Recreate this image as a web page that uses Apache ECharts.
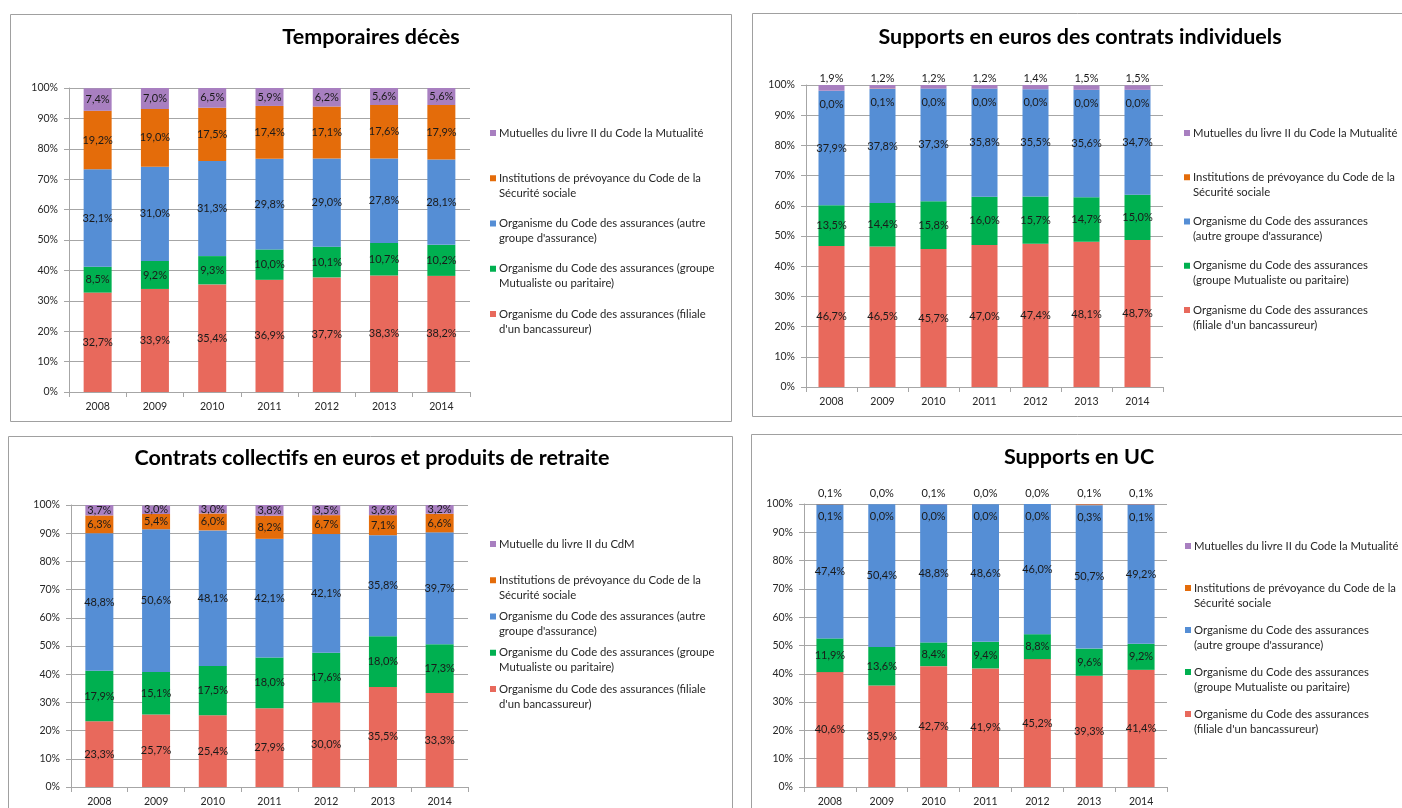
<!DOCTYPE html>
<html>
<head>
<meta charset="utf-8">
<script src="https://cdn.jsdelivr.net/npm/echarts@6/dist/echarts.min.js"></script>
<style>
  html, body { margin: 0; padding: 0; background: #ffffff; overflow: hidden; }
  #chart { width: 1402px; height: 808px; }
</style>
</head>
<body>
<div id="chart"></div>
<script>
// Years on the category axis
const years = ['2008', '2009', '2010', '2011', '2012', '2013', '2014'];

// Series names
const nameMutuelles = 'Mutuelles du livre II du Code la Mutualité';
const nameMutuelleCdM = 'Mutuelle du livre II du CdM';
const nameInstitutions = 'Institutions de prévoyance du Code de la Sécurité sociale';
const nameAutre = "Organisme du Code des assurances (autre groupe d'assurance)";
const nameGroupe = 'Organisme du Code des assurances (groupe Mutualiste ou paritaire)';
const nameFiliale = "Organisme du Code des assurances (filiale d'un bancassureur)";

// Chart titles
const titles = [
  'Temporaires décès',
  'Supports en euros des contrats individuels',
  'Contrats collectifs en euros et produits de retraite',
  'Supports en UC'
];

// Temporaires décès (%)
const tdFiliale      = [32.7, 33.9, 35.4, 36.9, 37.7, 38.3, 38.2];
const tdGroupe       = [8.5, 9.2, 9.3, 10.0, 10.1, 10.7, 10.2];
const tdAutre        = [32.1, 31.0, 31.3, 29.8, 29.0, 27.8, 28.1];
const tdInstitutions = [19.2, 19.0, 17.5, 17.4, 17.1, 17.6, 17.9];
const tdMutuelles    = [7.4, 7.0, 6.5, 5.9, 6.2, 5.6, 5.6];

// Supports en euros des contrats individuels (%)
const seFiliale      = [46.7, 46.5, 45.7, 47.0, 47.4, 48.1, 48.7];
const seGroupe       = [13.5, 14.4, 15.8, 16.0, 15.7, 14.7, 15.0];
const seAutre        = [37.9, 37.8, 37.3, 35.8, 35.5, 35.6, 34.7];
const seInstitutions = [0.0, 0.1, 0.0, 0.0, 0.0, 0.0, 0.0];
const seMutuelles    = [1.9, 1.2, 1.2, 1.2, 1.4, 1.5, 1.5];

// Contrats collectifs en euros et produits de retraite (%)
const ccFiliale      = [23.3, 25.7, 25.4, 27.9, 30.0, 35.5, 33.3];
const ccGroupe       = [17.9, 15.1, 17.5, 18.0, 17.6, 18.0, 17.3];
const ccAutre        = [48.8, 50.6, 48.1, 42.1, 42.1, 35.8, 39.7];
const ccInstitutions = [6.3, 5.4, 6.0, 8.2, 6.7, 7.1, 6.6];
const ccMutuelles    = [3.7, 3.0, 3.0, 3.8, 3.5, 3.6, 3.2];

// Supports en UC (%)
const ucFiliale      = [40.6, 35.9, 42.7, 41.9, 45.2, 39.3, 41.4];
const ucGroupe       = [11.9, 13.6, 8.4, 9.4, 8.8, 9.6, 9.2];
const ucAutre        = [47.4, 50.4, 48.8, 48.6, 46.0, 50.7, 49.2];
const ucInstitutions = [0.1, 0.0, 0.0, 0.0, 0.0, 0.3, 0.1];
const ucMutuelles    = [0.1, 0.0, 0.1, 0.0, 0.0, 0.1, 0.1];

// ---- styling ----
const FONT = 'Lato, "Liberation Sans", sans-serif';
const colors = {
  filiale: '#e8695c',
  groupe: '#00b050',
  autre: '#558ed5',
  institutions: '#e46c0a',
  mutuelles: '#a87fc0'
};
const gridLine = '#a6a6a6';
const textDark = '#262626';

// panel frames [x, y, w, h]
const frames = [
  [10.5, 14.5, 721, 407],
  [752.5, 13.5, 700, 403],
  [8.5, 436.5, 724, 420],
  [751.5, 434.5, 700, 420]
];

// plot areas [left, top, width, height]
const grids = [
  [69, 88, 401, 304],
  [806, 85, 357, 302],
  [71, 505, 397, 282],
  [804, 504, 363, 283]
];
const barWidths = [28, 26, 28, 27];
const titleCenters = [[371, 26], [1080, 26], [372, 447], [1079, 446]];

// legend placement: [left, top, itemGap]
const legends = [
  [490, 125.5, 15.25],
  [1184, 125.5, 14.25],
  [490, 536.5, 6.25],
  [1185, 538.5, 12]
];

// small top segments: distances of the top label above the bar and of the
// second-to-top label below its (near zero) segment
const smallLabelDist = [null, [1, 8], null, [5, 7]];

// legend wrapping, two layouts
const wrapWide = {};
wrapWide[nameMutuelles] = nameMutuelles + '\n ';
wrapWide[nameMutuelleCdM] = nameMutuelleCdM + '\n ';
wrapWide[nameInstitutions] = 'Institutions de prévoyance du Code de la\nSécurité sociale';
wrapWide[nameAutre] = "Organisme du Code des assurances (autre\ngroupe d'assurance)";
wrapWide[nameGroupe] = 'Organisme du Code des assurances (groupe\nMutualiste ou paritaire)';
wrapWide[nameFiliale] = "Organisme du Code des assurances (filiale\nd'un bancassureur)";

const wrapNarrow = Object.assign({}, wrapWide);
wrapNarrow[nameAutre] = "Organisme du Code des assurances\n(autre groupe d'assurance)";
wrapNarrow[nameGroupe] = 'Organisme du Code des assurances\n(groupe Mutualiste ou paritaire)';
wrapNarrow[nameFiliale] = "Organisme du Code des assurances\n(filiale d'un bancassureur)";

const fmt = v => v.toFixed(1).replace('.', ',') + '%';

// each chart: stacked series bottom to top
const charts = [
  { topName: nameMutuelles, data: [tdFiliale, tdGroupe, tdAutre, tdInstitutions, tdMutuelles], wrap: wrapWide },
  { topName: nameMutuelles, data: [seFiliale, seGroupe, seAutre, seInstitutions, seMutuelles], wrap: wrapNarrow },
  { topName: nameMutuelleCdM, data: [ccFiliale, ccGroupe, ccAutre, ccInstitutions, ccMutuelles], wrap: wrapWide },
  { topName: nameMutuelles, data: [ucFiliale, ucGroupe, ucAutre, ucInstitutions, ucMutuelles], wrap: wrapNarrow }
];

// square legend marker sitting on the first text line
const legendIcon = 'path://M0,0M0,4.5h6v6h-6zM0,30';

const option = {
  animation: false,
  backgroundColor: '#ffffff',
  textStyle: { fontFamily: FONT },
  title: [],
  grid: [],
  xAxis: [],
  yAxis: [],
  legend: [],
  series: [],
  graphic: frames.map(f => ({
    type: 'rect',
    silent: true,
    z: -10,
    shape: { x: f[0], y: f[1], width: f[2], height: f[3] },
    style: { fill: 'none', stroke: '#a0a0a0', lineWidth: 1 }
  }))
};

charts.forEach((c, i) => {
  const g = grids[i];
  option.title.push({
    text: titles[i],
    left: titleCenters[i][0],
    top: titleCenters[i][1],
    textAlign: 'center',
    padding: 0,
    textStyle: { fontFamily: FONT, fontSize: 21.5, fontWeight: 'bold', color: '#000000' }
  });
  option.grid.push({ left: g[0], top: g[1], width: g[2], height: g[3], containLabel: false });
  option.xAxis.push({
    type: 'category',
    gridIndex: i,
    data: years,
    axisLine: { lineStyle: { color: gridLine, width: 1 } },
    axisTick: { show: true, length: 5, lineStyle: { color: gridLine } },
    axisLabel: { color: textDark, fontSize: 10.5, margin: 9, fontFamily: FONT }
  });
  option.yAxis.push({
    type: 'value',
    gridIndex: i,
    min: 0,
    max: 100,
    interval: 10,
    axisLine: { show: true, lineStyle: { color: gridLine, width: 1 } },
    axisTick: { show: true, length: 5, lineStyle: { color: gridLine } },
    splitLine: { show: true, lineStyle: { color: gridLine, width: 1 } },
    axisLabel: { color: textDark, fontSize: 10.5, margin: 11, fontFamily: FONT, formatter: '{value}%' }
  });

  const names = [nameFiliale, nameGroupe, nameAutre, nameInstitutions, c.topName];
  const cols = [colors.filiale, colors.groupe, colors.autre, colors.institutions, colors.mutuelles];
  names.forEach((n, k) => {
    const label = {
      show: true,
      position: 'inside',
      color: '#1a1a1a',
      fontSize: 11,
      fontFamily: FONT,
      formatter: p => fmt(p.value)
    };
    const sd = smallLabelDist[i];
    if (sd && k === 4) {
      label.position = 'top';
      label.distance = sd[0];
    } else if (sd && k === 3) {
      label.position = 'bottom';
      label.distance = sd[1];
    }
    option.series.push({
      type: 'bar',
      name: n,
      xAxisIndex: i,
      yAxisIndex: i,
      stack: 'part' + i,
      barWidth: barWidths[i],
      data: c.data[k],
      itemStyle: { color: cols[k] },
      label: label,
      labelLayout: { hideOverlap: false },
      emphasis: { disabled: true }
    });
  });

  const L = legends[i];
  option.legend.push({
    orient: 'vertical',
    left: L[0],
    top: L[1],
    padding: 0,
    itemGap: L[2],
    itemWidth: 6,
    itemHeight: 30,
    icon: legendIcon,
    selectedMode: false,
    data: [c.topName, nameInstitutions, nameAutre, nameGroupe, nameFiliale],
    formatter: name => c.wrap[name],
    textStyle: { fontFamily: FONT, fontSize: 11.3, lineHeight: 15, color: textDark, padding: [0, 0, 0, -2] }
  });
});

const chart = echarts.init(document.getElementById('chart'), null, { renderer: 'canvas' });
chart.setOption(option);
</script>
</body>
</html>
